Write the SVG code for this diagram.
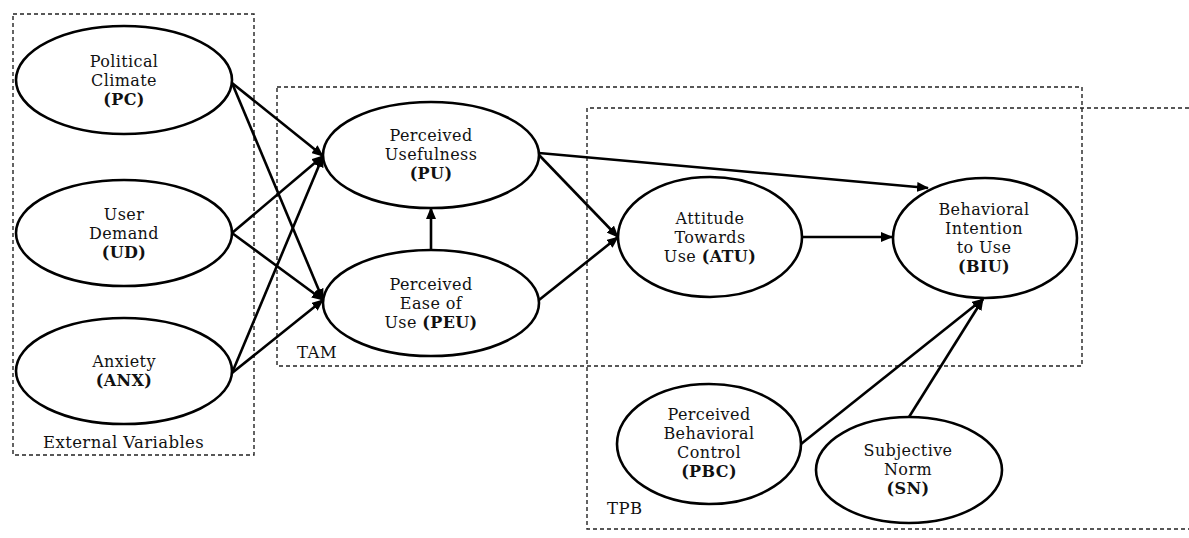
<svg xmlns="http://www.w3.org/2000/svg" width="1189" height="538" viewBox="0 0 1189 538">
<style>
.bg{fill:#fff}
.box{fill:none;stroke:#222;stroke-width:1.4;stroke-dasharray:4 3}
.node{fill:#fff;stroke:#000;stroke-width:2.6}
.t{font-family:"DejaVu Serif","Liberation Serif",serif;font-size:16px;letter-spacing:0.4px;fill:#111;text-anchor:middle}
.b{font-weight:bold}
.lbl{font-family:"DejaVu Serif","Liberation Serif",serif;font-size:16.5px;letter-spacing:0.4px;fill:#111}
.c{fill:none;stroke:#000;stroke-width:2.6;marker-end:url(#ah)}
</style>
<defs>
<marker id="ah" viewBox="0 0 12 10" refX="11" refY="5" markerWidth="12" markerHeight="10" markerUnits="userSpaceOnUse" orient="auto">
<path d="M0,0 L12,5 L0,10 z" fill="#000"/>
</marker>
</defs>
<rect class="bg" x="0" y="0" width="1189" height="538"/>
<g id="boxes">
<rect class="box" x="13" y="14" width="241" height="441"/>
<text class="lbl" x="43" y="448">External Variables</text>
<rect class="box" x="277" y="87" width="805" height="279"/>
<text class="lbl" x="297" y="358">TAM</text>
<path class="box" d="M1189,108 H587 V529 H1189"/>
<text class="lbl" x="607" y="514">TPB</text>
</g>
<g id="connectors">
<line class="c" x1="232" y1="83" x2="323" y2="156"/>
<line class="c" x1="232" y1="83" x2="323" y2="300"/>
<line class="c" x1="232" y1="233" x2="323" y2="156"/>
<line class="c" x1="232" y1="233" x2="323" y2="300"/>
<line class="c" x1="232" y1="373" x2="323" y2="156"/>
<line class="c" x1="232" y1="373" x2="323" y2="300"/>
<line class="c" x1="431" y1="250" x2="431" y2="208"/>
<line class="c" x1="539" y1="155" x2="618" y2="237"/>
<line class="c" x1="539" y1="300" x2="618" y2="237"/>
<line class="c" x1="539" y1="153" x2="928" y2="188"/>
<line class="c" x1="803" y1="237" x2="892" y2="237"/>
<line class="c" x1="801" y1="444" x2="983" y2="299"/>
<line class="c" x1="909" y1="417" x2="983" y2="299"/>
</g>
<g id="PC">
<ellipse class="node" cx="124" cy="80" rx="108" ry="54"/>
<text class="t" x="124" y="67">Political</text>
<text class="t" x="124" y="86">Climate</text>
<text class="t b" x="124" y="105">(PC)</text>
</g>
<g id="UD">
<ellipse class="node" cx="124" cy="233" rx="108" ry="53"/>
<text class="t" x="124" y="220">User</text>
<text class="t" x="124" y="239">Demand</text>
<text class="t b" x="124" y="258">(UD)</text>
</g>
<g id="ANX">
<ellipse class="node" cx="124" cy="371" rx="108" ry="53"/>
<text class="t" x="124" y="367">Anxiety</text>
<text class="t b" x="124" y="386">(ANX)</text>
</g>
<g id="PU">
<ellipse class="node" cx="431" cy="155" rx="108" ry="53"/>
<text class="t" x="431" y="141">Perceived</text>
<text class="t" x="431" y="160">Usefulness</text>
<text class="t b" x="431" y="179">(PU)</text>
</g>
<g id="PEU">
<ellipse class="node" cx="431" cy="303" rx="108" ry="53"/>
<text class="t" x="431" y="290">Perceived</text>
<text class="t" x="431" y="309">Ease of</text>
<text class="t" x="431" y="328">Use <tspan class="b">(PEU)</tspan></text>
</g>
<g id="ATU">
<ellipse class="node" cx="710" cy="237" rx="92" ry="60"/>
<text class="t" x="710" y="224">Attitude</text>
<text class="t" x="710" y="243">Towards</text>
<text class="t" x="710" y="262">Use <tspan class="b">(ATU)</tspan></text>
</g>
<g id="BIU">
<ellipse class="node" cx="985" cy="238" rx="92" ry="60"/>
<text class="t" x="984" y="215">Behavioral</text>
<text class="t" x="984" y="234">Intention</text>
<text class="t" x="984" y="253">to Use</text>
<text class="t b" x="984" y="272">(BIU)</text>
</g>
<g id="PBC">
<ellipse class="node" cx="709" cy="444" rx="92" ry="60"/>
<text class="t" x="709" y="420">Perceived</text>
<text class="t" x="709" y="439">Behavioral</text>
<text class="t" x="709" y="458">Control</text>
<text class="t b" x="709" y="477">(PBC)</text>
</g>
<g id="SN">
<ellipse class="node" cx="909" cy="470" rx="93" ry="53"/>
<text class="t" x="908" y="456">Subjective</text>
<text class="t" x="908" y="475">Norm</text>
<text class="t b" x="908" y="494">(SN)</text>
</g>
</svg>
